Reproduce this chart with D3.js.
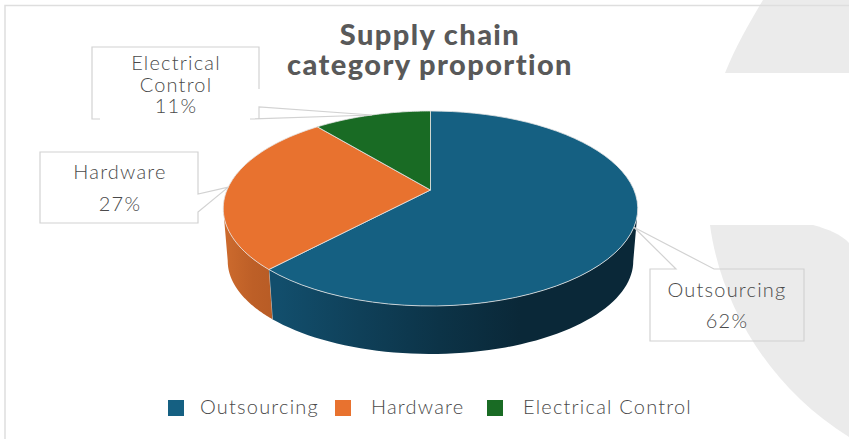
<!DOCTYPE html>
<html>
<head>
<meta charset="utf-8">
<script src="https://cdn.jsdelivr.net/npm/d3@7/dist/d3.min.js"></script>
<style>
  html, body { margin: 0; padding: 0; background: #fff; }
  svg { display: block; }
  text { font-family: Lato, "Open Sans", sans-serif; fill: #595959; }
  text.light { fill: #4a4a4a; }
</style>
</head>
<body>
<svg id="chart" width="849" height="439"></svg>
<script>
// Share of each supply chain category, in percent
const categories = ["Outsourcing", "Hardware", "Electrical Control"];
const shares = [62, 27, 11];
const topColors = ["#156082", "#E8722F", "#196B24"];
const titleLines = ["Supply chain", "category proportion"];

const svg = d3.select("#chart");
const defs = svg.append("defs");

// Backdrop: pale decorative shapes and the slide frame
const deco = svg.append("g").attr("fill", "#ebebeb");
deco.append("path").attr("d", "M763,0 C748,25 735,48 725,73 L849,73 L849,0 Z");
deco.append("path").attr("d", "M710,225 L813,225 C828,229 842,235 849,243 L849,437 C765,385 720,300 710,225 Z");
svg.append("path").attr("d", "M5,439 L5,5.5 L849,5.5").attr("fill", "none").attr("stroke", "#dedede").attr("stroke-width", 1.5);

// Tilted-disc projection: a unit circle with viewer-facing y goes to an ellipse
// whose centre sits below the projected pie centre.
const discX = d3.scaleLinear().domain([0, 1]).range([430.5, 634]);
const discY = d3.scaleLinear().domain([0, 1]).range([190, 247.94]);
const tilt = -0.1897;

function topPoint(theta) {
  const x = Math.sin(theta), y = -Math.cos(theta), w = 1 + tilt * y;
  return [discX(x / w), discY(y / w) + (190 * (1 / w - 1))];
}
// The lower rim is the same outline, slightly smaller and shifted down
const rimX = d3.scaleLinear().domain([430.5, 638]).range([430.5, 633.5]);
const rimY = d3.scaleLinear().domain([208.5, 306]).range([261, 354]);
function rimPoint(theta) {
  const [x, y] = topPoint(theta);
  return [rimX(x), rimY(y)];
}

const slices = d3.pie().sort(null).value(d => d)(shares);
const line = d3.line();
const arcSteps = (a, b) => d3.range(0, 61).map(i => a + (b - a) * i / 60);

// The side wall only shows between the two horizontal extremes of the ellipse
const wallStart = Math.acos(tilt);
const wallEnd = 2 * Math.PI - wallStart;

const wallGradients = [
  { id: "wall-0", from: 279, to: 520, stops: ["#124e6c", "#0f4059", "#0c3347", "#0a2838"] },
  { id: "wall-1", from: 226, to: 280, stops: ["#cc6a2d", "#bd5f27", "#b65b25"] }
];
wallGradients.forEach(g => {
  const gr = defs.append("linearGradient").attr("id", g.id)
    .attr("gradientUnits", "userSpaceOnUse")
    .attr("x1", g.from).attr("x2", g.to).attr("y1", 0).attr("y2", 0);
  g.stops.forEach((c, i) => gr.append("stop")
    .attr("offset", i / (g.stops.length - 1)).attr("stop-color", c));
});

const pieGroup = svg.append("g");

// Side walls
slices.forEach((s, i) => {
  const a = Math.max(s.startAngle, wallStart), b = Math.min(s.endAngle, wallEnd);
  if (a >= b) return;
  const steps = arcSteps(a, b);
  const outline = steps.map(topPoint).concat(steps.slice().reverse().map(rimPoint));
  pieGroup.append("path")
    .attr("d", line(outline) + "Z")
    .attr("fill", `url(#wall-${i})`);
  if (b < wallEnd) {
    pieGroup.append("path")
      .attr("d", line([topPoint(b), rimPoint(b)]))
      .attr("stroke", "#d0d0d0").attr("stroke-width", 0.8).attr("fill", "none");
  }
});

// Top faces
slices.forEach((s, i) => {
  const centre = [430.5, 190];
  const outline = [centre].concat(arcSteps(s.startAngle, s.endAngle).map(topPoint));
  pieGroup.append("path")
    .attr("d", line(outline) + "Z")
    .attr("fill", topColors[i])
    .attr("stroke", "#e4e4e4")
    .attr("stroke-width", 0.8)
    .attr("stroke-linejoin", "round");
});

// Title
svg.append("g").selectAll("text").data(titleLines).join("text")
  .attr("x", 430)
  .attr("y", (d, i) => 45 + i * 30)
  .attr("text-anchor", "middle")
  .attr("font-size", 29)
  .attr("font-weight", 900)
  .attr("letter-spacing", 1.4)
  .text(d => d);

// Data callouts: each pointer tip lands on the middle of its slice's rim
const callouts = [
  { text: 727, lines: [297, 328],
    path: (t) => `M676,269 L650,269 L650,341 L804,341 L804,269 L714,269 L${t} Z` },
  { text: 120, lines: [179, 211],
    path: (t) => `M198,194 L198,152 L40,152 L40,223 L198,223 L198,212 L${t} Z` },
  { text: 176, lines: [70, 92, 113],
    path: (t) => `M259,89 L259,47 L92,47 L92,119 L100,119 M250,119 L259,119 L259,107 L${t} Z` }
];
const labelLines = [
  [categories[0]],
  [categories[1]],
  ["Electrical", "Control"]
];
const calloutGroup = svg.append("g");
slices.forEach((s, i) => {
  const c = callouts[i];
  const tip = topPoint((s.startAngle + s.endAngle) / 2);
  calloutGroup.append("path")
    .attr("d", c.path(tip.map(v => v.toFixed(1)).join(",")))
    .attr("fill", "none").attr("stroke", "#d2d2d2").attr("stroke-width", 1.2);
  labelLines[i].concat(`${shares[i]}%`).forEach((t, k) => {
    calloutGroup.append("text")
      .attr("class", "light")
      .attr("x", c.text).attr("y", c.lines[k])
      .attr("text-anchor", "middle")
      .attr("font-size", 20)
      .attr("font-weight", 300)
      .attr("letter-spacing", 1.2)
      .text(t);
  });
});

// Legend
const legendSwatchX = [168, 335, 487];
const legendTextX = [200, 371, 523];
const legend = svg.append("g");
categories.forEach((name, i) => {
  legend.append("rect")
    .attr("x", legendSwatchX[i]).attr("y", 400)
    .attr("width", 16).attr("height", 16)
    .attr("fill", topColors[i]);
  legend.append("text")
    .attr("class", "light")
    .attr("x", legendTextX[i]).attr("y", 414)
    .attr("font-size", 20)
    .attr("font-weight", 300)
    .attr("letter-spacing", 1.2)
    .text(name);
});
</script>
</body>
</html>
